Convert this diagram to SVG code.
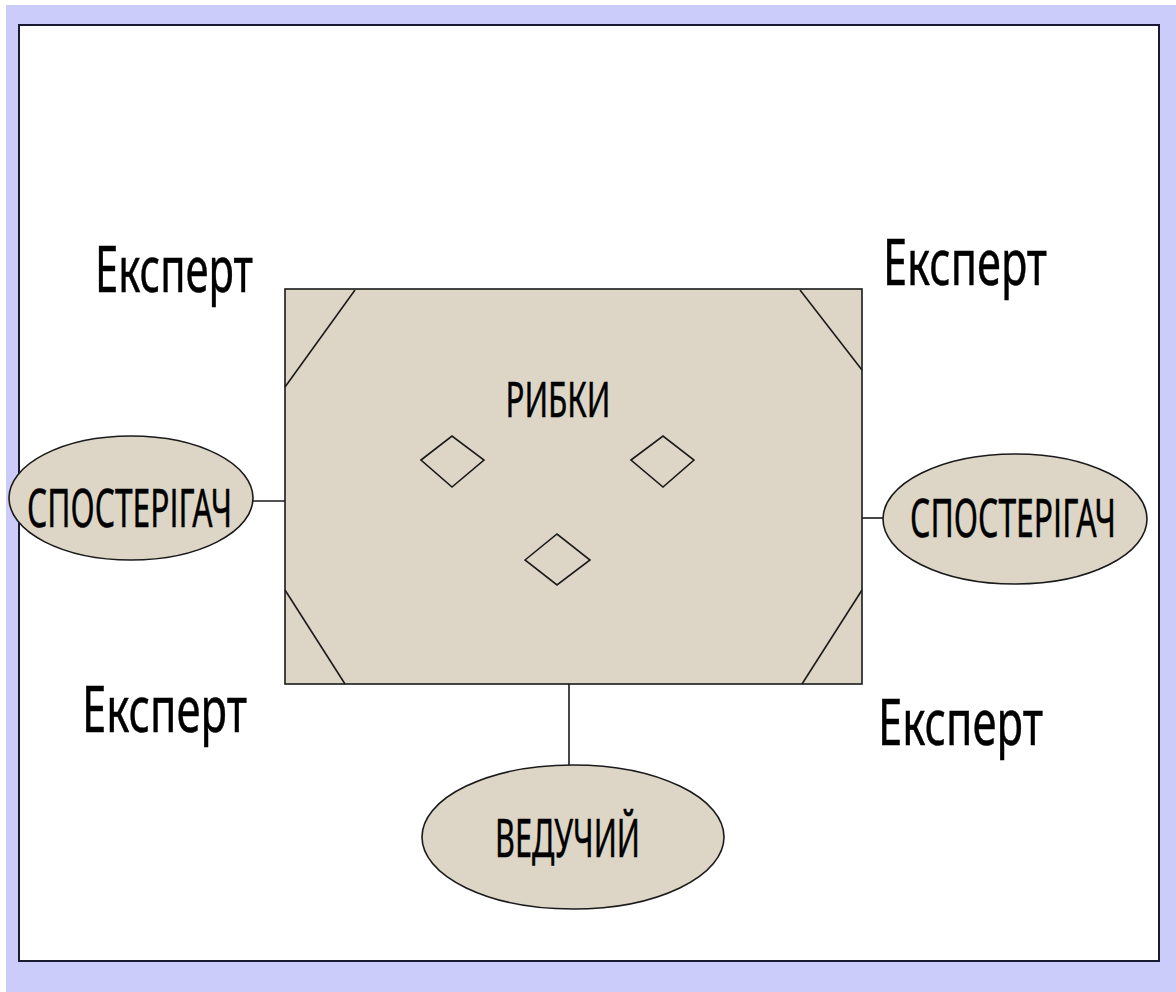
<svg xmlns="http://www.w3.org/2000/svg" width="1176" height="992" viewBox="0 0 1176 992">
<style>
.t{font-family:"Noto Sans","Liberation Sans",sans-serif;fill:#000;stroke:#000;stroke-width:0.5;}
.big{font-size:64px;}
.mid{font-size:52px;}
.shape{fill:#ddd6c6;stroke:#1a1a1a;stroke-width:1.6;}
.ln{stroke:#1a1a1a;stroke-width:1.6;fill:none;}
.dia{fill:none;stroke:#1a1a1a;stroke-width:1.6;}
</style>
<rect x="0" y="0" width="1176" height="992" fill="#ffffff"/>
<rect x="6" y="5" width="1170" height="987" fill="#ccccfa"/>
<rect x="19" y="25" width="1140" height="936" fill="#ffffff" stroke="#1a1a33" stroke-width="2"/>

<g id="connectors">
<line class="ln" x1="252" y1="501" x2="285" y2="501"/>
<line class="ln" x1="862" y1="518" x2="884" y2="518"/>
<line class="ln" x1="569" y1="684" x2="569" y2="765"/>
</g>

<g id="table">
<rect class="shape" x="285" y="289" width="577" height="395"/>
<line class="ln" x1="355" y1="290" x2="285" y2="387"/>
<line class="ln" x1="800" y1="290" x2="862" y2="370"/>
<line class="ln" x1="285" y1="590" x2="345" y2="684"/>
<line class="ln" x1="862" y1="590" x2="802" y2="684"/>
<text class="t" x="558" y="417" font-size="49" text-anchor="middle" textLength="105" lengthAdjust="spacingAndGlyphs">РИБКИ</text>
<polygon class="dia" points="421,460 452,436 484,460 452,487"/>
<polygon class="dia" points="631,460 663,436 694,460 663,487"/>
<polygon class="dia" points="525,560 557,534 590,560 557,585"/>
</g>

<g id="expert-tl"><text class="t big" x="95" y="292" textLength="158" lengthAdjust="spacingAndGlyphs">Експерт</text></g>
<g id="expert-tr"><text class="t big" x="883" y="285" textLength="164" lengthAdjust="spacingAndGlyphs">Експерт</text></g>
<g id="expert-bl"><text class="t big" x="82" y="732" textLength="165" lengthAdjust="spacingAndGlyphs">Експерт</text></g>
<g id="expert-br"><text class="t big" x="878" y="745" textLength="165" lengthAdjust="spacingAndGlyphs">Експерт</text></g>

<g id="observer-left">
<ellipse class="shape" cx="131" cy="498" rx="122" ry="62"/>
<text class="t mid" x="27" y="527" textLength="205" lengthAdjust="spacingAndGlyphs">СПОСТЕРІГАЧ</text>
</g>
<g id="observer-right">
<ellipse class="shape" cx="1015" cy="519" rx="132" ry="65"/>
<text class="t mid" x="910" y="537" textLength="206" lengthAdjust="spacingAndGlyphs">СПОСТЕРІГАЧ</text>
</g>
<g id="host">
<ellipse class="shape" cx="573" cy="837" rx="151" ry="72"/>
<text class="t mid" x="495" y="857" textLength="145" lengthAdjust="spacingAndGlyphs">ВЕДУЧИЙ</text>
</g>
</svg>
